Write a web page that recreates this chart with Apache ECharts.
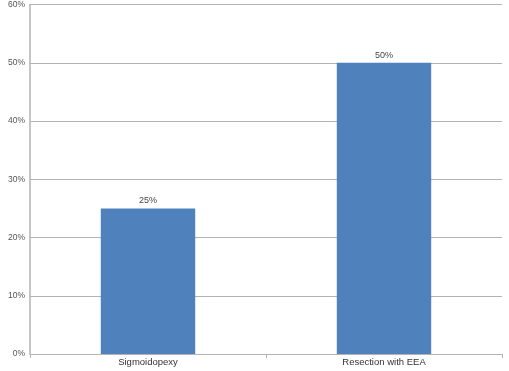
<!DOCTYPE html>
<html><head><meta charset="utf-8">
<script src="https://cdn.jsdelivr.net/npm/echarts@6/dist/echarts.min.js"></script>
<style>html,body{margin:0;padding:0;background:#fff}#c{width:509px;height:371px}</style>
</head><body><div id="c"></div>
<script>
const categories = ["Sigmoidopexy", "Resection with EEA"];
const values = [25, 50];
const yTicks = [0, 10, 20, 30, 40, 50, 60];

const font = 'Liberation Sans';
const chart = echarts.init(document.getElementById('c'), null, {renderer: 'canvas'});
chart.setOption({
  animation: false,
  grid: {left: 30, right: 7, top: 4, bottom: 17},
  xAxis: {
    type: 'category', data: categories,
    axisLine: {lineStyle: {color: '#b3b3b3', width: 1}},
    axisTick: {show: true, length: 4, lineStyle: {color: '#b3b3b3'}},
    axisLabel: {color: '#333', fontSize: 9.5, fontFamily: font, margin: 3}
  },
  yAxis: {
    type: 'value', min: yTicks[0], max: yTicks[yTicks.length-1], interval: 10,
    axisLine: {show: true, lineStyle: {color: '#b3b3b3', width: 1.5}},
    axisTick: {show: false},
    splitLine: {lineStyle: {color: '#b3b3b3', width: 1}},
    axisLabel: {color: '#555', fontSize: 8.5, fontFamily: font, margin: 5, formatter: v => v + '%'}
  },
  series: [{
    type: 'bar', data: values, barWidth: '40%',
    itemStyle: {color: '#4f81bd'},
    label: {show: true, position: 'top', distance: 3, color: '#444', fontSize: 9, fontFamily: font, formatter: p => p.value + '%'}
  }]
});
</script></body></html>
